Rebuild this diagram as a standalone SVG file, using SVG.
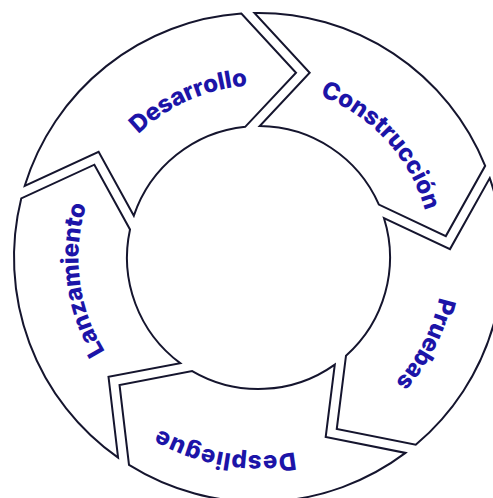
<svg xmlns="http://www.w3.org/2000/svg" xmlns:xlink="http://www.w3.org/1999/xlink" width="493" height="498" viewBox="0 0 493 498">
  <style>
    .seg { fill: #ffffff; stroke: #15152e; stroke-width: 2; stroke-linejoin: miter; }
    .lbl { font-family: Inter, "DejaVu Sans", sans-serif; font-weight: 800; font-size: 24px; fill: #1c14a8; }
  </style>
  <defs>
    <path id="seg" d="M -233.76 -71.69 A 244.5 244.5 0 0 1 -17.13 -243.90 L 37.52 -184.78 L -13.09 -130.85 A 131.5 131.5 0 0 0 -124.67 -41.81 L -159.88 -105.76 Z"/>
    <path id="p-des" d="M -166.89 41.61 A 172 172 0 0 1 142.59 -96.18"/>
    <path id="p-con" d="M -116.88 -127.55 A 173 173 0 0 1 116.88 127.55"/>
    <path id="p-pru" d="M 85.60 -165.13 A 186 186 0 0 1 -85.60 165.13"/>
    <path id="p-dep" d="M 195.17 33.36 A 198 198 0 0 1 -195.17 -33.36"/>
    <path id="p-lan" d="M 22.84 178.55 A 180 180 0 0 1 -22.84 -178.55"/>
  </defs>
  <rect width="493" height="498" fill="#ffffff"/>
  <g transform="translate(258.5,257.5)">
    <g id="desarrollo">
      <use xlink:href="#seg" href="#seg" class="seg"/>
      <text class="lbl"><textPath href="#p-des" xlink:href="#p-des" startOffset="50%" text-anchor="middle" textLength="122" lengthAdjust="spacing">Desarrollo</textPath></text>
    </g>
    <g id="construccion">
      <use xlink:href="#seg" href="#seg" class="seg" transform="rotate(72)"/>
      <text class="lbl"><textPath href="#p-con" xlink:href="#p-con" startOffset="50%" text-anchor="middle" textLength="162" lengthAdjust="spacing">Construcción</textPath></text>
    </g>
    <g id="pruebas">
      <use xlink:href="#seg" href="#seg" class="seg" transform="rotate(144)"/>
      <text class="lbl"><textPath href="#p-pru" xlink:href="#p-pru" startOffset="50%" text-anchor="middle" textLength="97" lengthAdjust="spacing">Pruebas</textPath></text>
    </g>
    <g id="despliegue">
      <use xlink:href="#seg" href="#seg" class="seg" transform="rotate(216)"/>
      <text class="lbl"><textPath href="#p-dep" xlink:href="#p-dep" startOffset="50%" text-anchor="middle" textLength="140" lengthAdjust="spacing">Despliegue</textPath></text>
    </g>
    <g id="lanzamiento">
      <use xlink:href="#seg" href="#seg" class="seg" transform="rotate(288)"/>
      <text class="lbl"><textPath href="#p-lan" xlink:href="#p-lan" startOffset="50%" text-anchor="middle" textLength="152" lengthAdjust="spacing">Lanzamiento</textPath></text>
    </g>
  </g>
  <g id="connectors"></g>
</svg>
